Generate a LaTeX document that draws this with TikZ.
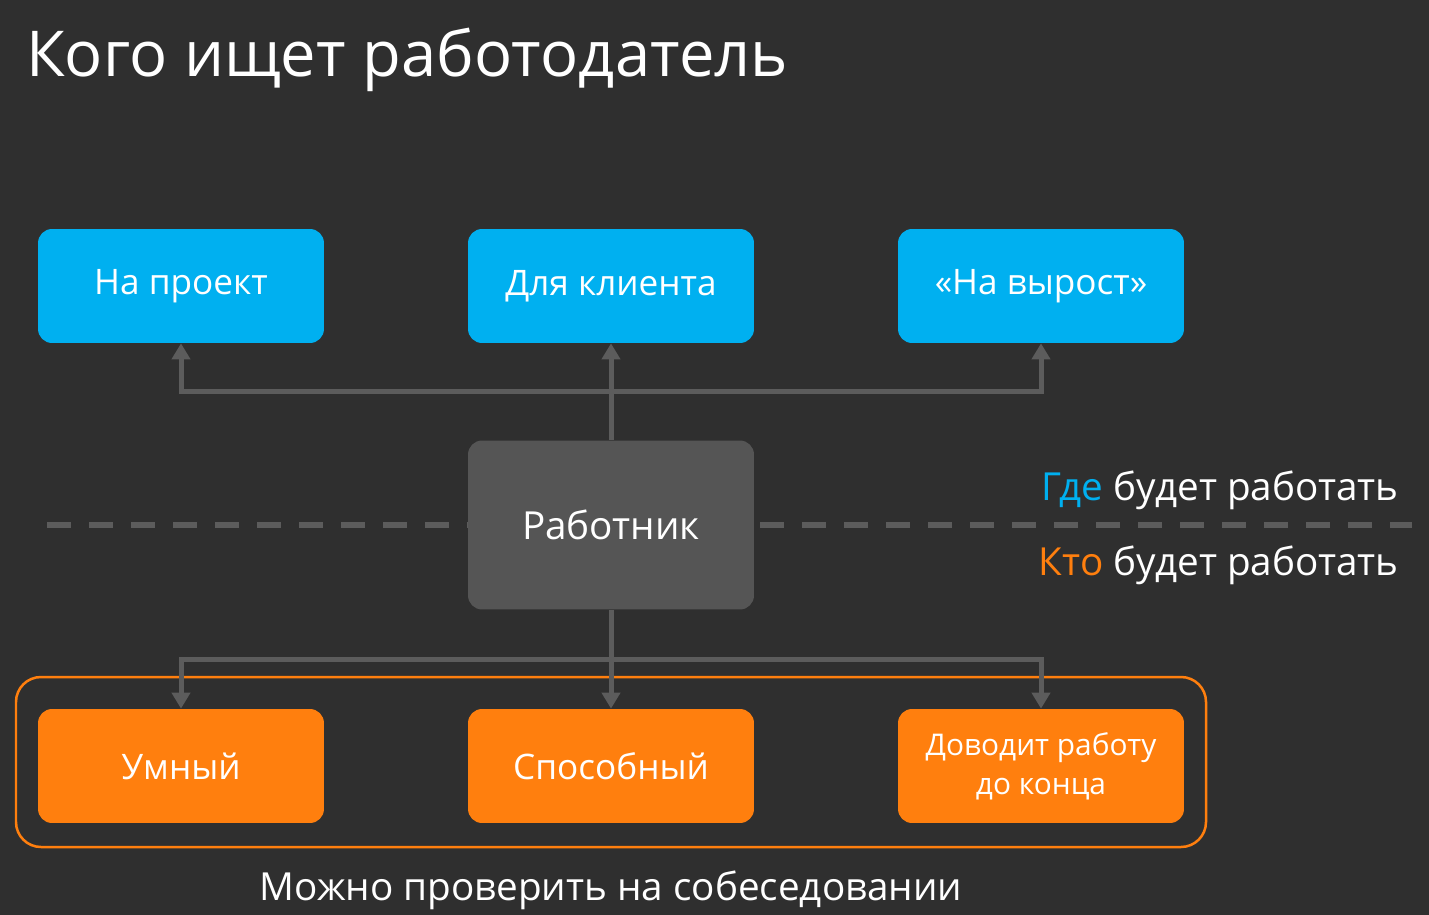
\documentclass[tikz,border=0pt]{standalone}
\usepackage{fontspec}
\setmainfont{Open Sans}
\usepackage{xcolor}
\usetikzlibrary{arrows.meta}
\usetikzlibrary{positioning}
\definecolor{bgdark}{HTML}{2F2F2F}
\definecolor{skyblue}{HTML}{00B0F0}
\definecolor{brightorange}{HTML}{FF7F0E}
\definecolor{boxgray}{HTML}{555555}
\definecolor{linegray}{HTML}{5C5C5C}
\tikzset{
    card/.style={rounded corners=0.28cm,minimum width=5.72cm,minimum height=2.28cm,
        text=white,align=center,font=\fontsize{20}{24}\selectfont},
    wherecard/.style={card,fill=skyblue},
    whocard/.style={card,fill=brightorange},
    link/.style={draw=linegray,line width=1mm,-{Triangle[length=3.2mm,width=3.6mm]}},
    sidenote/.style={text=white,font=\fontsize{22}{26}\selectfont},
}
\begin{document}
\begin{tikzpicture}[x=0.02cm,y=-0.02cm]
    \useasboundingbox[fill=bgdark] (0,0) rectangle (1429,915);
    % title
    \node[anchor=base west,text=white,font=\fontsize{36}{40}\selectfont] (title) at (20,77) {Кого ищет работодатель};
    % dashed separator
    \draw[linegray,line width=1.2mm,dash pattern=on 0.48cm off 0.36cm] (47,525) -- (468,525);
    \draw[linegray,line width=1.2mm,dash pattern=on 0.48cm off 0.36cm] (760,525) -- (1412,525);
    % frame round the lower row
    \draw[brightorange,line width=0.5mm,rounded corners=0.5cm] (16,677) rectangle (1206,847);
    \begin{scope}[every node/.style={card}]
    \node[wherecard] (project) at (181,286) {На проект};
    \node[wherecard] (client) at (611,286) {Для клиента};
    \node[wherecard] (growth) at (1041,286) {«На вырост»};
    \node[fill=boxgray,minimum height=3.38cm,font=\fontsize{22}{26}\selectfont] (worker) at (611,525) {Работник};
    \node[whocard] (smart) at (181,766) {Умный};
    \node[whocard] (able) at (611,766) {Способный};
    \node[whocard,font=\fontsize{17}{22}\selectfont] (finisher) at (1041,766) {Доводит работу\\до конца};
    \end{scope}
    \coordinate (topjoin) at (611,391);
    \coordinate (bottomjoin) at (611,659);
    \begin{scope}[every edge/.style={link}]
    \path (worker.north) edge (client.south);
    \path (worker.south) edge (able.north);
    \end{scope}
    \draw[link] (topjoin) -| (project.south);
    \draw[link] (topjoin) -| (growth.south);
    \draw[link] (bottomjoin) -| (smart.north);
    \draw[link] (bottomjoin) -| (finisher.north);
    % side notes
    \node[sidenote,anchor=base east] (where) at (1405,500) {\textcolor{skyblue}{Где} будет работать};
    \node[sidenote,anchor=base east] (who) at (1405,575) {\textcolor{brightorange}{Кто} будет работать};
    \node[sidenote,anchor=base] (check) at (611,900) {Можно проверить на собеседовании};
\end{tikzpicture}
\end{document}
